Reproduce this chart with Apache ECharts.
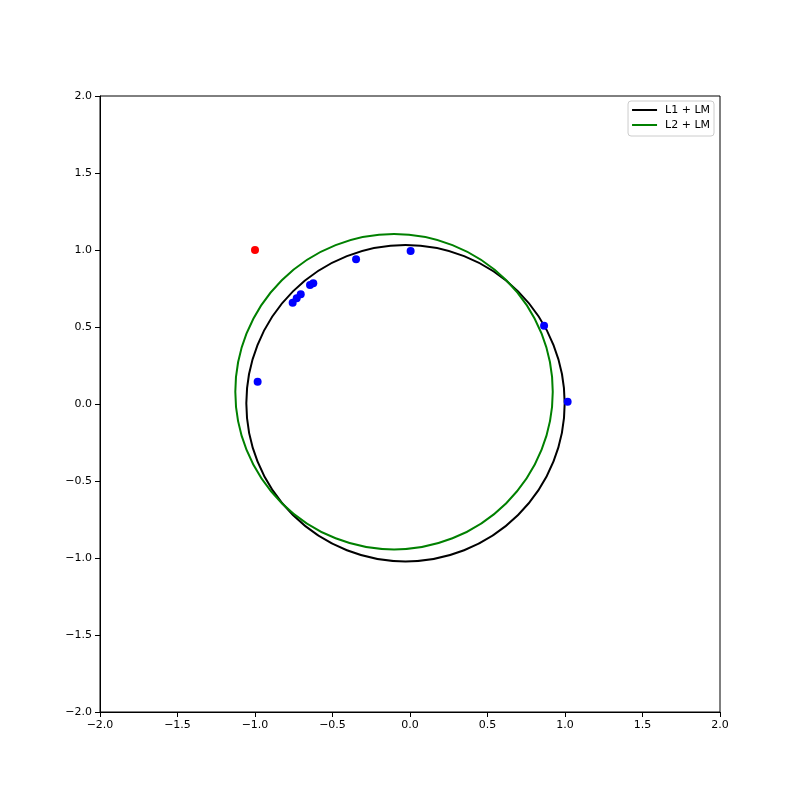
<!DOCTYPE html>
<html>
<head>
<meta charset="utf-8">
<script src="https://cdn.jsdelivr.net/npm/echarts@6/dist/echarts.min.js"></script>
<style>html,body{margin:0;padding:0;background:#fff}#c{width:800px;height:800px}</style>
</head>
<body>
<div id="c"></div>
<script>
// Data
const blueX = [0.004, -0.348, -0.624, -0.645, -0.705, -0.731, -0.757, -0.983, 0.865, 1.017];
const blueY = [0.994, 0.940, 0.784, 0.773, 0.712, 0.686, 0.658, 0.145, 0.508, 0.015];
const redX = [-1.0];
const redY = [1.0];
// circle fits: [centerX, centerY, radius]
const circleL1 = [-0.029, 0.005, 1.027];
const circleL2 = [-0.103, 0.080, 1.024];
const seriesNames = ['L1 + LM', 'L2 + LM'];
const tickValues = [-2.0, -1.5, -1.0, -0.5, 0.0, 0.5, 1.0, 1.5, 2.0];

const fmt = v => (v < 0 ? '\u2212' : '') + Math.abs(v).toFixed(1);

function circleRenderer(color) {
  return function (params, api) {
    const c = api.coord([api.value(0), api.value(1)]);
    const s = api.size([api.value(2), api.value(2)]);
    const rx = s[0], ry = s[1];
    const d = 'M ' + (c[0] - rx) + ' ' + c[1] +
      ' A ' + rx + ' ' + ry + ' 0 1 0 ' + (c[0] + rx) + ' ' + c[1] +
      ' A ' + rx + ' ' + ry + ' 0 1 0 ' + (c[0] - rx) + ' ' + c[1] + ' Z';
    return {
      type: 'path',
      shape: { pathData: d },
      style: { fill: 'none', stroke: color, lineWidth: 2 }
    };
  };
}

const axisCommon = {
  type: 'value', min: -2, max: 2, interval: 0.5,
  axisLine: { show: true, onZero: false, lineStyle: { color: '#000', width: 1 } },
  axisTick: { show: true, inside: false, length: 5, lineStyle: { color: '#000' } },
  axisLabel: { formatter: fmt, color: '#000', fontSize: 11, fontFamily: 'DejaVu Sans', margin: 8 },
  splitLine: { show: false }
};

const chart = echarts.init(document.getElementById('c'), null, { renderer: 'canvas' });
chart.setOption({
  backgroundColor: '#fff',
  animation: false,
  grid: { left: 100, right: 80, top: 96, bottom: 88, show: true, borderColor: '#000', borderWidth: 1, backgroundColor: 'transparent' },
  xAxis: axisCommon,
  yAxis: axisCommon,
  legend: {
    orient: 'vertical', right: 86, top: 101,
    data: seriesNames,
    icon: 'rect', itemWidth: 25, itemHeight: 2, itemGap: 1,
    textStyle: { fontSize: 11, lineHeight: 14, fontFamily: 'DejaVu Sans', color: '#000', padding: [0, 0, 0, 3] },
    borderColor: '#ccc', borderWidth: 1, borderRadius: 3,
    padding: [2, 4, 4, 4], backgroundColor: '#fff'
  },
  series: [
    {
      name: seriesNames[0], type: 'custom', renderItem: circleRenderer('#000000'),
      itemStyle: { color: '#000000' }, data: [circleL1], z: 2
    },
    {
      name: seriesNames[1], type: 'custom', renderItem: circleRenderer('#008000'),
      itemStyle: { color: '#008000' }, data: [circleL2], z: 2
    },
    {
      type: 'scatter', symbolSize: 8, itemStyle: { color: '#0000ff', opacity: 1 },
      data: blueX.map((x, i) => [x, blueY[i]]), z: 3
    },
    {
      type: 'scatter', symbolSize: 8, itemStyle: { color: '#ff0000', opacity: 1 },
      data: redX.map((x, i) => [x, redY[i]]), z: 3
    }
  ]
});
</script>
</body>
</html>
